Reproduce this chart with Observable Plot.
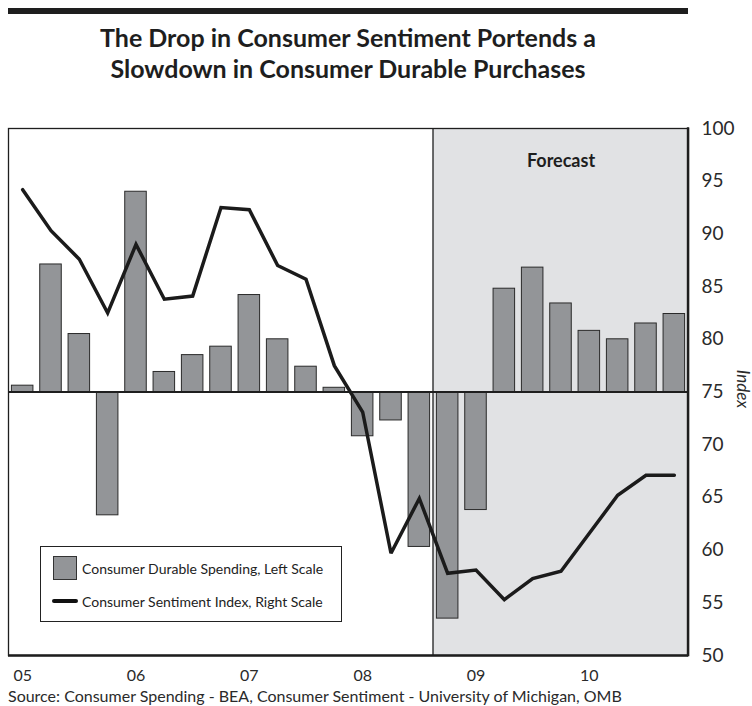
<!DOCTYPE html>
<html>
<head>
<meta charset="utf-8">
<script src="https://cdn.jsdelivr.net/npm/d3@7"></script>
<script src="https://cdn.jsdelivr.net/npm/@observablehq/plot@0.6"></script>
<style>
  html, body { margin: 0; padding: 0; background: #fff; }
  body { font-family: Lato, "Open Sans", sans-serif; color: #1e1e1e; }
  #wrap { position: relative; width: 752px; height: 706px; overflow: hidden; }
  #rule { position: absolute; left: 8px; top: 8px; width: 680px; height: 5.5px; background: #1e1e1e; }
  #title { position: absolute; left: 8px; top: 22px; width: 680px; text-align: center;
           font-size: 25px; line-height: 31px; font-weight: 700; color: #1e1e1e; }
  #chart { position: absolute; left: 0; top: 101px; }
  #caption { position: absolute; left: 8px; top: 686px; font-size: 16px; line-height: 19px; color: #2a2a2a; white-space: nowrap; }
  #ylabel { position: absolute; left: 743px; top: 389px; transform: translate(-50%, -50%) rotate(90deg);
            font-size: 17px; line-height: 17px; font-style: italic; color: #2a2a2a; white-space: nowrap; }
  #legend { position: absolute; left: 40px; top: 546px; width: 300px; height: 74px; border: 1.5px solid #222; background: #fff; }
  .lg-row { position: absolute; left: 0; height: 24px; display: flex; align-items: center; font-size: 14px; color: #222; white-space: nowrap; }
  .lg-sq { width: 22px; height: 22px; background: #939598; border: 1px solid #333; margin-left: 12px; margin-right: 5px; }
  .lg-ln { width: 26px; height: 4.5px; background: #111; border-radius: 3px; margin-left: 11px; margin-right: 4px; }
  svg [aria-label^="x-axis"] text { font-size: 16px; fill: #2a2a2a; }
  svg [aria-label^="y-axis"] text { font-size: 19px; fill: #2a2a2a; }
</style>
</head>
<body>
<div id="wrap">
  <div id="rule"></div>
  <div id="title"></div>
  <div id="chart"></div>
  <div id="ylabel">Index</div>
  <div id="legend">
    <div class="lg-row" style="top:9px"><div class="lg-sq"></div><span id="lg1"></span></div>
    <div class="lg-row" style="top:42px"><div class="lg-ln"></div><span id="lg2"></span></div>
  </div>
  <div id="caption"></div>
</div>
<script>
// ---- Data ----
const quarters = ["05Q1","05Q2","05Q3","05Q4","06Q1","06Q2","06Q3","06Q4",
                  "07Q1","07Q2","07Q3","07Q4","08Q1","08Q2","08Q3","08Q4",
                  "09Q1","09Q2","09Q3","09Q4","10Q1","10Q2","10Q3","10Q4"];
// Consumer durable spending (left scale, unlabeled; % change)
const durableSpending = [0.6, 12.1, 5.5, -11.7, 19.0, 1.9, 3.5, 4.3,
                         9.2, 5.0, 2.4, 0.4, -4.2, -2.7, -14.7, -21.5,
                         -11.2, 9.8, 11.8, 8.4, 5.8, 5.0, 6.5, 7.4];
// Consumer sentiment index (right scale)
const sentiment = [94.2, 90.3, 87.6, 82.5, 89.0, 83.8, 84.1, 92.5,
                   92.3, 87.0, 85.7, 77.5, 73.1, 59.7, 64.9, 57.8,
                   58.1, 55.3, 57.3, 58.0, 61.6, 65.2, 67.1, 67.1];
const yearTicks = ["05Q1","06Q1","07Q1","08Q1","09Q1","10Q1"];
const yearLabels = ["05","06","07","08","09","10"];
const indexTicks = [50, 55, 60, 65, 70, 75, 80, 85, 90, 95, 100];
const indexDomain = [50, 100];
const spendingDomain = [-25, 25];
const forecastStart = "08Q4";
const forecastLabel = "Forecast";
const seriesNames = ["Consumer Durable Spending, Left Scale", "Consumer Sentiment Index, Right Scale"];
const titleText = ["The Drop in Consumer Sentiment Portends a", "Slowdown in Consumer Durable Purchases"];
const sourceText = "Source: Consumer Spending - BEA, Consumer Sentiment - University of Michigan, OMB";

// left (spending) scale expressed on the right (index) scale
const leftToIndex = d3.scaleLinear().domain(spendingDomain).range(indexDomain);

const data = quarters.map((q, i) => ({q, spending: durableSpending[i], sentiment: sentiment[i]}));

document.getElementById("lg1").textContent = seriesNames[0];
document.getElementById("lg2").textContent = seriesNames[1];
document.getElementById("caption").textContent = sourceText;
document.getElementById("title").innerHTML = titleText.join("<br>");

function bw(x) { return typeof x.bandwidth === "function" ? x.bandwidth() : x.bandwidth; }

// forecast shading, derived from the band scale
function forecastShade(index, scales, values, dims) {
  const x = scales.x, y = scales.y;
  const i = quarters.indexOf(forecastStart);
  const step = x(quarters[i]) - x(quarters[i - 1]);
  const gap = step - bw(x);
  const x0 = x(quarters[i]) - gap / 2;
  const x1 = dims.width - dims.marginRight;
  const g = d3.create("svg:g");
  g.append("rect").attr("x", x0).attr("y", y(indexDomain[1])).attr("width", x1 - x0)
    .attr("height", y(indexDomain[0]) - y(indexDomain[1])).attr("fill", "#e1e2e4");
  g.append("line").attr("x1", x0).attr("x2", x0).attr("y1", y(indexDomain[1])).attr("y2", y(indexDomain[0]))
    .attr("stroke", "#1e1e1e").attr("stroke-width", 1.3);
  return g.node();
}
function rightBorder(index, scales, values, dims) {
  const y = scales.y;
  const xr = dims.width - dims.marginRight;
  const g = d3.create("svg:g");
  g.append("line").attr("x1", xr).attr("x2", xr).attr("y1", y(indexDomain[1]) - 0.7).attr("y2", y(indexDomain[0]) + 1.2)
    .attr("stroke", "#1e1e1e").attr("stroke-width", 2.4);
  return g.node();
}

const chart = Plot.plot({
  width: 752,
  height: 590,
  marginLeft: 8,
  marginRight: 64,
  marginTop: 27,
  marginBottom: 36,
  style: {fontFamily: "Lato, 'Open Sans', sans-serif", background: "transparent", color: "#2a2a2a", overflow: "visible"},
  x: {domain: quarters, round: false, paddingInner: 0.24, paddingOuter: 0.12, ticks: yearTicks,
      tickFormat: q => yearLabels[yearTicks.indexOf(q)], tickSize: 0, tickPadding: 14, label: null},
  y: {domain: indexDomain, ticks: indexTicks, axis: "right", tickSize: 0, tickPadding: 13, label: null},
  marks: [
    forecastShade,
    Plot.barY(data, {x: "q", y1: () => leftToIndex(0), y2: d => leftToIndex(d.spending),
                     fill: "#939598", stroke: "#2a2a2a", strokeWidth: 1}),
    Plot.ruleY([leftToIndex(0)], {stroke: "#1e1e1e", strokeWidth: 2}),
    Plot.line(data, {x: "q", y: "sentiment", stroke: "#1b1b1b", strokeWidth: 3.5, strokeLinejoin: "miter", strokeMiterlimit: 3}),
    Plot.text([forecastLabel], {x: () => quarters[19], frameAnchor: "top", dy: 26, text: d => d,
                                fontSize: 18, fontWeight: 700, fill: "#1e1e1e"}),
    Plot.frame({stroke: "#1e1e1e", strokeWidth: 1.3}),
    Plot.ruleY([indexDomain[0]], {stroke: "#1e1e1e", strokeWidth: 2.4}),
    rightBorder
  ]
});
document.getElementById("chart").appendChild(chart);
</script>
</body>
</html>
